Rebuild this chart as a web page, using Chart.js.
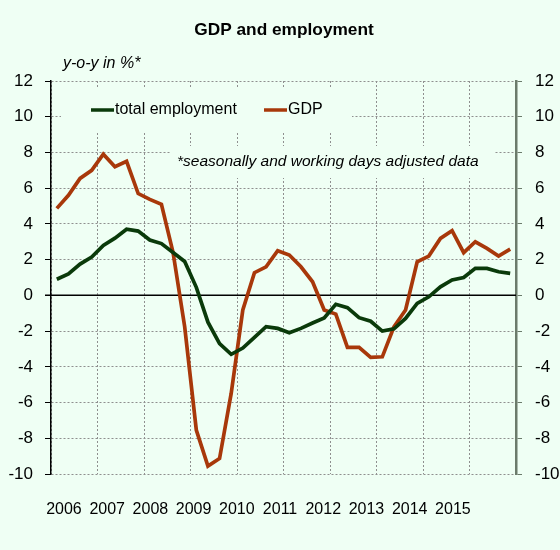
<!DOCTYPE html>
<html>
<head>
<meta charset="utf-8">
<script src="https://cdn.jsdelivr.net/npm/chart.js@4/dist/chart.umd.min.js"></script>
<style>
  body { margin: 0; background: #EFFFF4; }
  #wrap { width: 560px; height: 550px; }
</style>
</head>
<body>
<div id="wrap"><canvas id="gdpChart" width="560" height="550"></canvas></div>
<script>
// quarterly data, 2006Q1 .. 2015Q4 (y-o-y in %)
const employment = [0.9, 1.2, 1.75, 2.15, 2.8, 3.2, 3.7, 3.6, 3.1, 2.9, 2.4, 1.9,
  0.45, -1.5, -2.7, -3.3, -2.95, -2.35, -1.75, -1.85, -2.09, -1.85, -1.55, -1.27,
  -0.5, -0.69, -1.25, -1.45, -2.0, -1.87, -1.29, -0.45, -0.08, 0.48, 0.86, 1.0,
  1.51, 1.51, 1.32, 1.23];
const gdp = [4.87, 5.6, 6.55, 7.0, 7.9, 7.2, 7.5, 5.7, 5.37, 5.1, 2.4, -1.76,
  -7.54, -9.56, -9.13, -5.49, -0.82, 1.27, 1.6, 2.5, 2.26, 1.6, 0.76, -0.82,
  -1.05, -2.91, -2.91, -3.47, -3.44, -1.76, -0.82, 1.88, 2.2, 3.19, 3.62, 2.39,
  3.0, 2.63, 2.2, 2.59];
const years = [2006, 2007, 2008, 2009, 2010, 2011, 2012, 2013, 2014, 2015];
const yTicks = [-10, -8, -6, -4, -2, 0, 2, 4, 6, 8, 10, 12];

const FONT = "'Liberation Sans', Arial, sans-serif";
const GREEN = '#0A3A0A';
const ORANGE = '#A8380A';
const BG = '#EFFFF4';
const GRID = '#8f8f8f';

const toPoints = (arr) => arr.map((v, i) => ({ x: i + 0.5, y: v }));

// background, zero line, masked boxes, legend and texts
const decorPlugin = {
  id: 'decor',
  beforeDraw(chart) {
    const c = chart.ctx;
    c.save();
    c.fillStyle = BG;
    c.fillRect(0, 0, chart.width, chart.height);
    c.restore();
  },
  beforeDatasetsDraw(chart) {
    const c = chart.ctx;
    const y = chart.scales.y;
    const area = chart.chartArea;
    c.save();
    // zero line
    const y0 = y.getPixelForValue(0);
    c.strokeStyle = '#000';
    c.lineWidth = 1.5;
    c.beginPath();
    c.moveTo(area.left - 6, y0);
    c.lineTo(area.right, y0);
    c.stroke();
    // boxes hiding the grid behind legend and note
    c.fillStyle = BG;
    c.fillRect(61, 88, 291, 44);
    c.fillRect(170, 146, 324, 32);
    // legend
    c.lineWidth = 3.5;
    c.strokeStyle = GREEN;
    c.beginPath(); c.moveTo(91, 110); c.lineTo(114, 110); c.stroke();
    c.strokeStyle = ORANGE;
    c.beginPath(); c.moveTo(264, 110); c.lineTo(287, 110); c.stroke();
    c.fillStyle = '#000';
    c.font = '16px ' + FONT;
    c.textBaseline = 'middle';
    c.textAlign = 'left';
    c.fillText('total employment', 115, 110);
    c.fillText('GDP', 288, 110);
    // note
    c.font = 'italic 15.5px ' + FONT;
    c.fillText('*seasonally and working days adjusted data', 177, 162);
    c.restore();
  },
  afterDraw(chart) {
    const c = chart.ctx;
    c.save();
    c.fillStyle = '#000';
    c.textBaseline = 'middle';
    c.textAlign = 'center';
    c.font = 'bold 17.3px ' + FONT;
    c.fillText('GDP and employment', 284, 30);
    c.textAlign = 'left';
    c.font = 'italic 16px ' + FONT;
    c.fillText('y-o-y in %*', 63, 64);
    c.restore();
  }
};

const yScaleBase = {
  type: 'linear',
  min: -10,
  max: 12,
  afterBuildTicks: (s) => { s.ticks = yTicks.map(v => ({ value: v })); },
  ticks: { color: '#000', font: { family: FONT, size: 17 } }
};

new Chart(document.getElementById('gdpChart'), {
  type: 'line',
  data: {
    datasets: [
      { label: 'total employment', data: toPoints(employment), borderColor: GREEN,
        borderWidth: 3.7, pointRadius: 0, tension: 0, xAxisID: 'x', yAxisID: 'y' },
      { label: 'GDP', data: toPoints(gdp), borderColor: ORANGE,
        borderWidth: 3.7, pointRadius: 0, tension: 0, xAxisID: 'x', yAxisID: 'y' }
    ]
  },
  options: {
    responsive: false,
    animation: false,
    layout: { padding: { top: 81, left: 0, right: 0, bottom: 0 } },
    plugins: { legend: { display: false }, tooltip: { enabled: false } },
    scales: {
      x: {
        type: 'linear',
        position: 'bottom',
        min: 0,
        max: employment.length,
        ticks: { display: false, stepSize: 4 },
        grid: { color: GRID, drawTicks: false },
        border: { display: false, dash: [2, 2] },
        afterFit: (s) => { s.height = 0; }
      },
      x2: {
        type: 'linear',
        position: 'bottom',
        min: 2005.7,
        max: 2016.46,
        afterBuildTicks: (s) => { s.ticks = years.map(v => ({ value: v })); },
        ticks: { color: '#000', padding: 26, maxRotation: 0, autoSkip: false,
          font: { family: FONT, size: 16 }, callback: (v) => String(v) },
        grid: { display: false, drawTicks: false },
        border: { display: false },
        afterFit: (s) => { s.height = 76; }
      },
      y: Object.assign({}, yScaleBase, {
        position: 'left',
        grid: { color: GRID, tickColor: '#000', tickLength: 6 },
        border: { color: '#000', width: 1.5, dash: [2, 2] },
        ticks: Object.assign({}, yScaleBase.ticks, { padding: 12 }),
        afterFit: (s) => { s.width = 51; }
      }),
      y1: Object.assign({}, yScaleBase, {
        position: 'right',
        grid: { drawOnChartArea: false, color: '#6B7B6B', tickColor: '#6B7B6B', tickLength: 6 },
        border: { color: '#6B7B6B', width: 2.5 },
        ticks: Object.assign({}, yScaleBase.ticks, { padding: 13 }),
        afterFit: (s) => { s.width = 44; }
      })
    }
  },
  plugins: [decorPlugin]
});
</script>
</body>
</html>
